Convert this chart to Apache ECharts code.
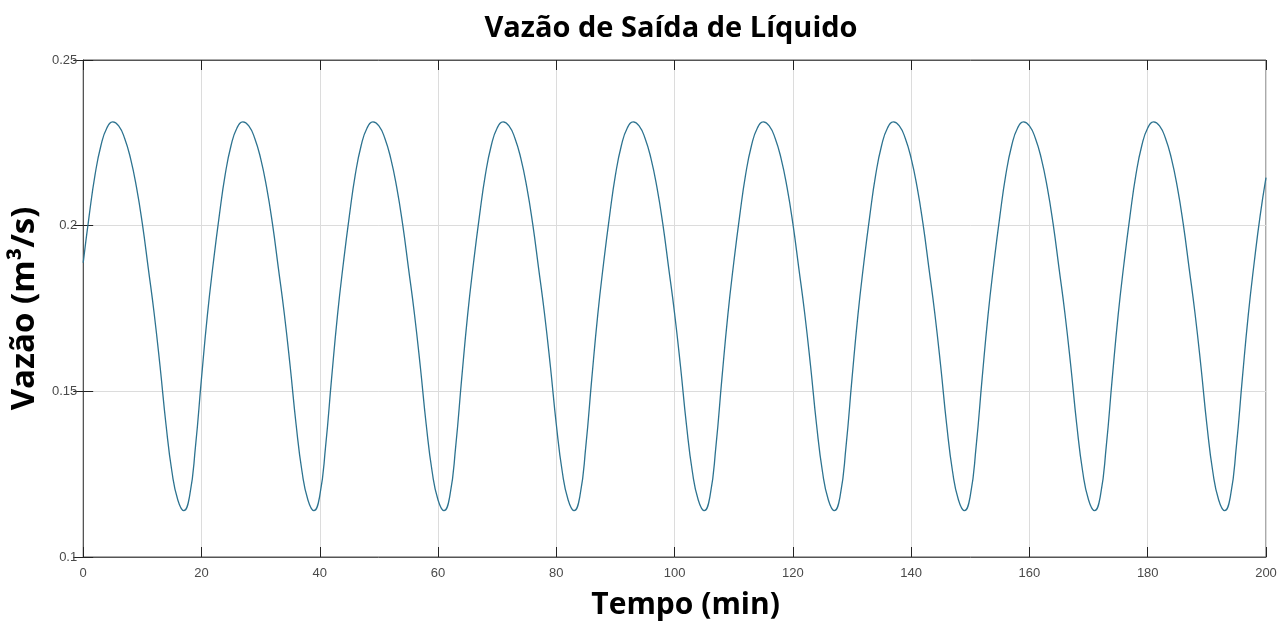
<!DOCTYPE html>
<html>
	<head>
		<meta charset="utf-8">
		<title>Vazão de Saída de Líquido</title>
	</head>
	<body style="margin:0;background:#fff;">
		<div id="container" style="width: 1282px;height:627px;"></div>
	</body>
	<script src="https://cdn.jsdelivr.net/npm/echarts@6/dist/echarts.min.js"></script>
	<script type="text/javascript">
		'use strict'

		// tempo de 0 a 200 min, um ponto por minuto
		var tempo = [];
		for (var i = 0; i <= 200; i++) {
			tempo.push(i);
		}
		// vazão (m3/s)
		var vazao = [
			0.1888, 0.2029, 0.2153, 0.2242, 0.2295,
			0.2313, 0.2301, 0.2264, 0.2203, 0.2117, 0.2006, 0.1872, 0.1735, 0.1575, 0.1400, 0.1258, 0.1172, 0.1140, 0.1185, 0.1336, 0.1539, 0.1730, 0.1888, 0.2029, 0.2153, 0.2242, 0.2295,
			0.2313, 0.2301, 0.2264, 0.2203, 0.2117, 0.2006, 0.1872, 0.1735, 0.1575, 0.1400, 0.1258, 0.1172, 0.1140, 0.1185, 0.1336, 0.1539, 0.1730, 0.1888, 0.2029, 0.2153, 0.2242, 0.2295,
			0.2313, 0.2301, 0.2264, 0.2203, 0.2117, 0.2006, 0.1872, 0.1735, 0.1575, 0.1400, 0.1258, 0.1172, 0.1140, 0.1185, 0.1336, 0.1539, 0.1730, 0.1888, 0.2029, 0.2153, 0.2242, 0.2295,
			0.2313, 0.2301, 0.2264, 0.2203, 0.2117, 0.2006, 0.1872, 0.1735, 0.1575, 0.1400, 0.1258, 0.1172, 0.1140, 0.1185, 0.1336, 0.1539, 0.1730, 0.1888, 0.2029, 0.2153, 0.2242, 0.2295,
			0.2313, 0.2301, 0.2264, 0.2203, 0.2117, 0.2006, 0.1872, 0.1735, 0.1575, 0.1400, 0.1258, 0.1172, 0.1140, 0.1185, 0.1336, 0.1539, 0.1730, 0.1888, 0.2029, 0.2153, 0.2242, 0.2295,
			0.2313, 0.2301, 0.2264, 0.2203, 0.2117, 0.2006, 0.1872, 0.1735, 0.1575, 0.1400, 0.1258, 0.1172, 0.1140, 0.1185, 0.1336, 0.1539, 0.1730, 0.1888, 0.2029, 0.2153, 0.2242, 0.2295,
			0.2313, 0.2301, 0.2264, 0.2203, 0.2117, 0.2006, 0.1872, 0.1735, 0.1575, 0.1400, 0.1258, 0.1172, 0.1140, 0.1185, 0.1336, 0.1539, 0.1730, 0.1888, 0.2029, 0.2153, 0.2242, 0.2295,
			0.2313, 0.2301, 0.2264, 0.2203, 0.2117, 0.2006, 0.1872, 0.1735, 0.1575, 0.1400, 0.1258, 0.1172, 0.1140, 0.1185, 0.1336, 0.1539, 0.1730, 0.1888, 0.2029, 0.2153, 0.2242, 0.2295,
			0.2313, 0.2301, 0.2264, 0.2203, 0.2117, 0.2006, 0.1872, 0.1735, 0.1575, 0.1400, 0.1258, 0.1172, 0.1140, 0.1185, 0.1336, 0.1539, 0.1730, 0.1888, 0.2029, 0.2145
		];

		var pontos = tempo.map(function(t, k) {
			return [t, vazao[k]];
		});

		var fonteEixo = {
			color: '#4a4a4a',
			fontSize: 13,
			fontFamily: 'Liberation Sans'
		};

		var myCharts = echarts.init(document.getElementById('container'));
		var option = {
			animation: false,
			title: {
				text: 'Vazão de Saída de Líquido',
				left: 666,
				top: 9,
				textAlign: 'center',
				textStyle: {
					fontFamily: 'Open Sans',
					fontWeight: 'bold',
					fontSize: 29,
					color: '#000'
				}
			},
			grid: {
				left: 83,
				right: 16,
				top: 60,
				bottom: 70,
				show: true,
				borderColor: '#555',
				borderWidth: 1
			},
			xAxis: [{
				type: 'value',
				min: 0,
				max: 200,
				interval: 20,
				name: 'Tempo (min)',
				nameLocation: 'middle',
				nameGap: 33,
				nameTextStyle: {
					fontFamily: 'Open Sans',
					fontWeight: 'bold',
					fontSize: 30,
					color: '#000',
					padding: [0, 0, 0, 22]
				},
				axisLine: { show: true, lineStyle: { color: '#555' } },
				axisTick: { show: true, inside: true, length: 10, lineStyle: { color: '#222' } },
				axisLabel: Object.assign({ margin: 10 }, fonteEixo),
				splitLine: { show: true, lineStyle: { color: '#dcdcdc' } }
			}, {
				type: 'value',
				position: 'top',
				min: 0,
				max: 200,
				interval: 20,
				axisLine: { show: true, lineStyle: { color: '#555' } },
				axisTick: { show: true, inside: true, length: 10, lineStyle: { color: '#222' } },
				axisLabel: { show: false },
				splitLine: { show: false }
			}],
			yAxis: [{
				type: 'value',
				min: 0.1,
				max: 0.25,
				interval: 0.05,
				name: 'Vazão (m³/s)',
				nameLocation: 'middle',
				nameGap: 36,
				nameTextStyle: {
					fontFamily: 'Open Sans',
					fontWeight: 'bold',
					fontSize: 33,
					color: '#000'
				},
				axisLine: { show: true, lineStyle: { color: '#555' } },
				axisTick: { show: true, inside: true, length: 10, lineStyle: { color: '#222' } },
				axisLabel: Object.assign({ margin: 6 }, fonteEixo),
				splitLine: { show: true, lineStyle: { color: '#dcdcdc' } }
			}, {
				type: 'value',
				position: 'right',
				min: 0.1,
				max: 0.25,
				interval: 0.05,
				axisLine: { show: true, lineStyle: { color: '#555' } },
				axisTick: { show: true, inside: true, length: 10, lineStyle: { color: '#222' } },
				axisLabel: { show: false },
				splitLine: { show: false }
			}],
			series: [{
				name: 'Vazão',
				type: 'line',
				data: pontos,
				smooth: 0.5,
				symbol: 'none',
				lineStyle: {
					color: '#2d7390',
					width: 1.3
				}
			}]
		};
		myCharts.setOption(option);
	</script>
</html>
